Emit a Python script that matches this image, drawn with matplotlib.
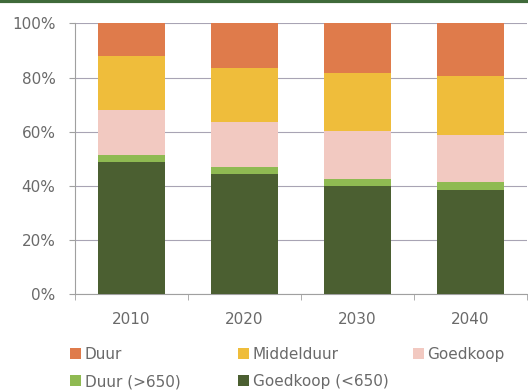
import matplotlib.pyplot as plt
import numpy as np
from matplotlib.lines import Line2D

# data (percent of stock)
years = ['2010', '2020', '2030', '2040']
goedkoop_lt650 = [49.0, 44.4, 40.1, 38.4]
duur_gt650 = [2.3, 2.7, 2.3, 3.1]
goedkoop = [16.7, 16.6, 18.0, 17.2]
middelduur = [19.9, 19.9, 21.4, 21.9]
duur = [12.1, 16.4, 18.2, 19.4]

series = [
    ('Goedkoop (<650)', goedkoop_lt650, '#4b5f31'),
    ('Duur (>650)', duur_gt650, '#8fba52'),
    ('Goedkoop', goedkoop, '#f2c9c1'),
    ('Middelduur', middelduur, '#efbd3b'),
    ('Duur', duur, '#df7b4b'),
]
txtcol = '#6a6a6a'

fig = plt.figure(figsize=(5.28, 3.91), dpi=100)
ax = fig.add_axes([0.142, 0.2473, 0.856, 0.6931])

x = np.arange(len(years))
bottom = np.zeros(len(years))
handles = {}
for name, vals, col in series:
    b = ax.bar(x, vals, 0.59, bottom=bottom, color=col, label=name, zorder=3)
    handles[name] = b
    bottom += np.array(vals)

ax.set_xlim(-0.5, len(years) - 0.5)
ax.set_ylim(0, 100)
ax.set_yticks([0, 20, 40, 60, 80, 100])
ax.set_yticklabels(['0%', '20%', '40%', '60%', '80%', '100%'])
ax.yaxis.grid(True, color='#a8a4b4', linewidth=0.8, zorder=0)
ax.set_xticks(x)
ax.set_xticklabels(years)
ax.set_xticks(np.arange(-0.5, len(years)), minor=True)
ax.tick_params(axis='x', which='major', length=0, pad=13, labelsize=11, labelcolor=txtcol)
ax.tick_params(axis='x', which='minor', length=4, color='#a0a0a0', direction='out')
ax.tick_params(axis='y', length=4, color='#a0a0a0', labelsize=11, labelcolor=txtcol, pad=10)
for s in ['top', 'right']:
    ax.spines[s].set_visible(False)
for s in ['left', 'bottom']:
    ax.spines[s].set_color('#a0a0a0')
    ax.spines[s].set_linewidth(0.8)

# legend: three columns placed by hand like the reference
columns = [['Duur', 'Duur (>650)'], ['Middelduur', 'Goedkoop (<650)'], ['Goedkoop']]
col_x = [0.1326, 0.4508, 0.782]
for names, cx in zip(columns, col_x):
    leg = fig.legend([handles[n] for n in names], names, loc='upper left',
                     bbox_to_anchor=(cx, 0.113), frameon=False, fontsize=11,
                     handlelength=0.7, handleheight=0.7, handletextpad=0.25,
                     labelspacing=0.8, borderaxespad=0, borderpad=0)
    for t in leg.get_texts():
        t.set_color(txtcol)

# green frame line at the top of the picture
fig.add_artist(Line2D([0, 1], [0.997, 0.997], transform=fig.transFigure,
                      color='#3f6a3a', linewidth=3))

plt.savefig('out.png', dpi=100)
